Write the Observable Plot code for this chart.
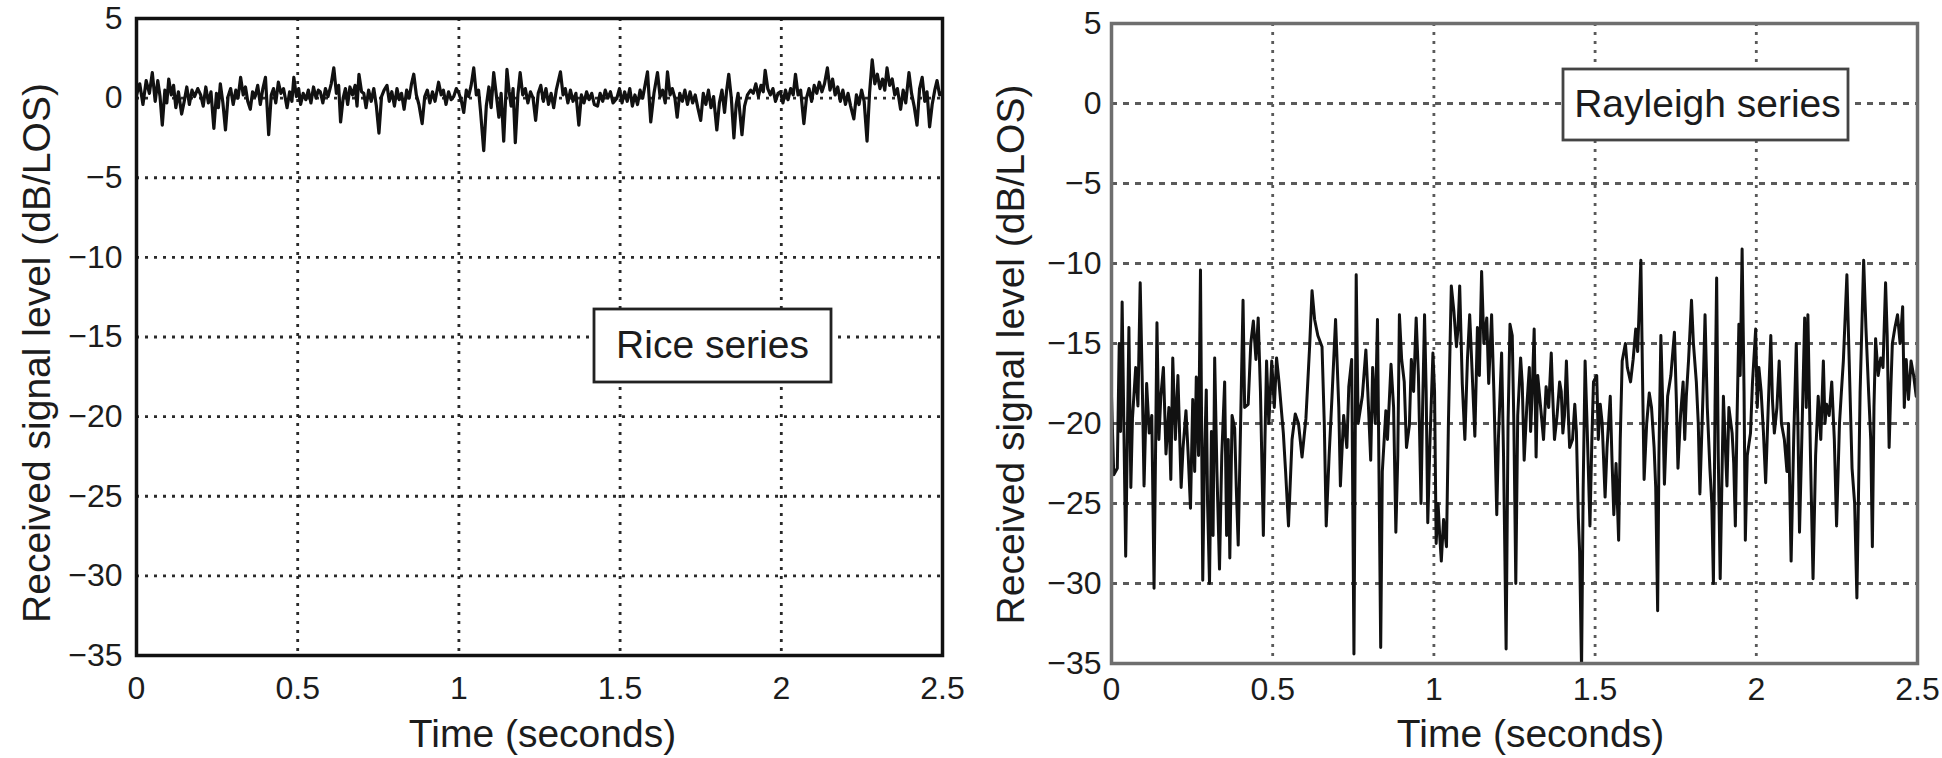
<!DOCTYPE html>
<html><head><meta charset="utf-8">
<script src="https://cdn.jsdelivr.net/npm/d3@7"></script>
<script src="https://cdn.jsdelivr.net/npm/@observablehq/plot@0.6"></script>
<style>
html,body{margin:0;padding:0;background:#fff;}
#wrap{display:flex;width:1942px;height:758px;overflow:hidden;}
</style></head><body><div id="wrap"></div>
<script>
// ---- data (time in seconds, level in dB/LOS) ----
const xTicks = [0, 0.5, 1, 1.5, 2, 2.5];
const yTicks = [5, 0, -5, -10, -15, -20, -25, -30, -35];
const xGrid = [0.5, 1, 1.5, 2];
const yGrid = [0, -5, -10, -15, -20, -25, -30];
const xLabel = "Time (seconds)";
const yLabel = "Received signal level (dB/LOS)";
const legendLabels = ["Rice series", "Rayleigh series"];

const riceSamples = [[0,0.2],[0.01,0.9],[0.02,-0.4],[0.03,1.1],[0.04,0.3],[0.049,1.6],[0.058,-0.2],[0.066,1.1],[0.073,0.1],[0.08,-1.7],[0.088,0.5],[0.094,-0.3],[0.1,1.2],[0.108,0.2],[0.115,0.8],[0.122,-0.6],[0.13,0.4],[0.14,-1.0],[0.148,-0.2],[0.156,0.7],[0.164,-0.4],[0.172,0.5],[0.18,0.1],[0.19,0.6],[0.199,0.2],[0.207,-0.5],[0.215,0.7],[0.223,-0.3],[0.231,0.4],[0.24,-1.9],[0.248,0.3],[0.254,-0.6],[0.26,0.9],[0.268,-0.3],[0.276,-2.0],[0.284,0.1],[0.292,0.6],[0.3,-0.4],[0.308,0.5],[0.315,0.0],[0.323,1.3],[0.331,0.2],[0.338,0.7],[0.345,-0.2],[0.353,-0.7],[0.36,0.4],[0.368,0.1],[0.376,0.8],[0.384,-0.4],[0.392,0.6],[0.4,1.3],[0.41,-2.3],[0.418,0.2],[0.425,0.6],[0.432,-0.3],[0.44,1.0],[0.448,0.3],[0.456,0.6],[0.467,-0.6],[0.475,0.4],[0.482,-0.2],[0.488,1.3],[0.496,0.1],[0.503,0.6],[0.509,-0.4],[0.517,0.3],[0.525,-0.1],[0.533,0.5],[0.541,-0.3],[0.549,0.7],[0.557,0.0],[0.564,0.5],[0.57,0.4],[0.578,-0.3],[0.586,0.6],[0.594,0.1],[0.604,0.9],[0.612,1.9],[0.62,0.3],[0.627,0.8],[0.633,-1.5],[0.641,0.0],[0.648,0.6],[0.655,-0.4],[0.662,0.7],[0.67,0.2],[0.678,0.8],[0.684,-0.5],[0.69,1.5],[0.698,0.4],[0.705,0.3],[0.712,-0.6],[0.72,0.5],[0.728,-0.2],[0.736,0.6],[0.744,-0.5],[0.752,-2.2],[0.76,0.1],[0.768,0.5],[0.777,0.8],[0.784,-0.2],[0.792,0.4],[0.8,-0.5],[0.808,0.6],[0.815,-0.1],[0.822,0.3],[0.83,-0.7],[0.838,0.5],[0.846,0.0],[0.853,0.9],[0.86,1.5],[0.868,0.2],[0.876,-0.4],[0.886,-1.6],[0.894,0.1],[0.902,0.5],[0.91,-0.3],[0.918,0.4],[0.926,-0.2],[0.937,1.0],[0.945,0.2],[0.952,0.5],[0.96,-0.4],[0.968,0.4],[0.976,-0.1],[0.984,0.1],[0.992,0.6],[1,0.3],[1.008,-0.2],[1.015,-0.9],[1.023,0.5],[1.03,0.1],[1.038,0.8],[1.046,1.9],[1.054,0.2],[1.061,0.5],[1.067,-0.8],[1.077,-3.3],[1.085,-0.5],[1.093,0.7],[1.1,-0.6],[1.108,1.6],[1.116,0.2],[1.124,-1.2],[1.131,0.3],[1.139,-2.7],[1.149,1.8],[1.156,0.4],[1.162,-0.5],[1.168,0.6],[1.175,-2.8],[1.183,0.2],[1.19,1.6],[1.198,0.2],[1.206,0.6],[1.214,-0.3],[1.222,0.4],[1.23,0.0],[1.238,-1.4],[1.246,0.3],[1.254,0.8],[1.262,-0.2],[1.27,0.6],[1.278,-0.4],[1.286,0.3],[1.294,-0.6],[1.302,0.5],[1.315,1.65],[1.323,0.2],[1.33,0.6],[1.338,-0.3],[1.346,0.5],[1.354,-0.2],[1.363,0.3],[1.372,-1.7],[1.38,0.2],[1.388,-0.3],[1.396,0.4],[1.404,-0.1],[1.412,0.3],[1.42,-0.4],[1.43,-0.5],[1.438,0.3],[1.446,-0.2],[1.454,0.5],[1.462,0.0],[1.47,0.4],[1.478,-0.3],[1.49,0.0],[1.498,0.6],[1.506,-0.3],[1.514,0.4],[1.522,-0.2],[1.53,0.6],[1.538,-0.5],[1.546,0.2],[1.554,-0.4],[1.562,0.5],[1.57,0.0],[1.585,1.65],[1.595,-1.5],[1.605,0.3],[1.616,1.6],[1.624,0.1],[1.632,0.5],[1.64,-0.3],[1.647,1.65],[1.655,0.2],[1.662,0.6],[1.67,0.0],[1.677,-1.2],[1.685,0.3],[1.693,-0.2],[1.701,0.5],[1.709,-0.4],[1.717,0.4],[1.725,-0.3],[1.733,0.2],[1.741,-0.6],[1.75,-1.4],[1.758,0.3],[1.766,-0.4],[1.774,0.5],[1.782,-0.6],[1.79,0.1],[1.8,-2.0],[1.808,-0.3],[1.816,0.5],[1.824,-0.9],[1.83,0.4],[1.837,1.5],[1.845,0.0],[1.853,-2.5],[1.86,-0.4],[1.866,0.3],[1.872,-1.0],[1.878,-2.3],[1.886,-0.5],[1.895,0.2],[1.905,0.5],[1.913,0.3],[1.921,0.9],[1.929,0.1],[1.937,0.8],[1.944,0.4],[1.95,1.75],[1.958,0.6],[1.966,0.2],[1.974,0.6],[1.982,-0.2],[1.99,0.3],[1.997,0.4],[2.005,-0.3],[2.013,0.5],[2.021,-0.1],[2.029,0.6],[2.037,0.2],[2.044,1.5],[2.052,0.2],[2.06,0.5],[2.07,-1.6],[2.078,0.0],[2.086,0.6],[2.094,-0.2],[2.102,0.8],[2.11,0.3],[2.118,1.0],[2.126,0.4],[2.134,0.9],[2.143,1.9],[2.151,0.5],[2.159,1.2],[2.167,0.2],[2.175,0.7],[2.183,-0.2],[2.191,0.5],[2.199,-0.4],[2.207,0.3],[2.215,-0.5],[2.225,-1.3],[2.233,0.2],[2.241,-0.4],[2.249,0.5],[2.257,-0.2],[2.266,-2.7],[2.274,0.4],[2.282,2.4],[2.29,0.9],[2.298,1.5],[2.306,0.6],[2.314,1.2],[2.321,0.5],[2.328,1.9],[2.336,0.8],[2.344,1.2],[2.352,0.2],[2.36,0.6],[2.37,-0.7],[2.378,0.5],[2.386,-0.3],[2.396,1.6],[2.404,0.3],[2.412,-0.5],[2.421,-1.7],[2.429,0.6],[2.437,1.3],[2.445,-0.2],[2.452,0.4],[2.46,-1.8],[2.468,-0.4],[2.476,0.5],[2.483,1.1],[2.491,0.2],[2.5,0.4]];

const rayleighSamples = [[0,-18.3],[0.007,-23.2],[0.018,-22.8],[0.033,-12.4],[0.044,-28.3],[0.054,-14.0],[0.065,-19.7],[0.075,-16.5],[0.089,-11.2],[0.101,-23.9],[0.117,-20.6],[0.132,-30.3],[0.141,-13.7],[0.153,-18.3],[0.169,-21.9],[0.19,-15.9],[0.216,-24.0],[0.231,-19.2],[0.245,-25.3],[0.263,-17.1],[0.276,-10.4],[0.283,-29.8],[0.294,-17.9],[0.304,-30.0],[0.32,-15.9],[0.335,-29.1],[0.351,-17.4],[0.367,-28.4],[0.382,-20.3],[0.393,-27.6],[0.408,-12.3],[0.424,-18.8],[0.44,-13.6],[0.455,-13.4],[0.471,-27.0],[0.481,-16.1],[0.497,-16.1],[0.512,-15.9],[0.533,-20.6],[0.549,-26.4],[0.57,-19.4],[0.591,-22.1],[0.603,-19.7],[0.622,-11.7],[0.653,-15.2],[0.666,-26.4],[0.684,-18.3],[0.695,-13.5],[0.71,-23.9],[0.736,-17.7],[0.752,-34.4],[0.759,-10.7],[0.778,-18.3],[0.789,-15.4],[0.804,-22.3],[0.825,-13.5],[0.835,-34.0],[0.851,-19.2],[0.867,-16.3],[0.882,-26.8],[0.893,-13.2],[0.908,-17.4],[0.924,-20.1],[0.945,-13.4],[0.96,-25.0],[0.971,-13.2],[0.981,-26.2],[0.997,-15.6],[1.007,-27.5],[1.023,-28.6],[1.039,-27.7],[1.054,-11.4],[1.07,-15.2],[1.08,-11.4],[1.096,-21.0],[1.111,-13.2],[1.127,-20.8],[1.148,-10.5],[1.164,-13.4],[1.179,-13.2],[1.195,-25.7],[1.21,-15.6],[1.224,-34.1],[1.236,-13.8],[1.243,-14.5],[1.254,-30.0],[1.269,-15.9],[1.28,-22.3],[1.296,-16.5],[1.311,-14.1],[1.317,-22.1],[1.332,-19.2],[1.348,-17.7],[1.364,-15.6],[1.374,-21.0],[1.39,-17.4],[1.4,-20.6],[1.411,-16.1],[1.421,-21.5],[1.437,-18.8],[1.448,-25.9],[1.458,-35.4],[1.469,-16.1],[1.484,-26.4],[1.495,-17.4],[1.505,-17.0],[1.516,-18.8],[1.531,-24.6],[1.547,-18.3],[1.558,-25.7],[1.573,-27.3],[1.584,-16.1],[1.594,-15.0],[1.61,-17.4],[1.626,-14.1],[1.642,-9.8],[1.652,-23.5],[1.668,-18.1],[1.683,-21.5],[1.694,-31.7],[1.704,-14.5],[1.715,-23.8],[1.725,-18.3],[1.746,-14.3],[1.757,-22.8],[1.773,-17.4],[1.783,-18.3],[1.799,-12.3],[1.814,-17.4],[1.825,-24.4],[1.841,-13.2],[1.856,-22.8],[1.867,-30.0],[1.877,-10.9],[1.888,-29.7],[1.898,-18.3],[1.909,-23.9],[1.925,-20.6],[1.935,-26.4],[1.946,-13.8],[1.956,-9.1],[1.966,-27.3],[1.982,-20.6],[1.998,-14.1],[2.008,-16.5],[2.029,-23.7],[2.045,-14.5],[2.056,-20.6],[2.071,-16.1],[2.087,-21.0],[2.108,-28.6],[2.124,-15.0],[2.134,-26.8],[2.15,-13.4],[2.16,-13.2],[2.176,-29.7],[2.192,-18.3],[2.208,-16.1],[2.218,-18.8],[2.234,-17.4],[2.249,-26.4],[2.27,-16.1],[2.281,-10.7],[2.297,-22.8],[2.312,-30.9],[2.333,-9.8],[2.349,-18.3],[2.36,-27.7],[2.37,-14.7],[2.386,-15.9],[2.401,-11.2],[2.412,-21.5],[2.422,-15.0],[2.438,-13.2],[2.454,-12.7],[2.459,-19.0],[2.48,-16.1],[2.496,-18.3],[2.5,-16.1]];

// ... and the smaller wiggles read between them
const rayleighDetail = [[0.024,-15.0],[0.028,-20.5],[0.06,-24.0],[0.082,-18.9],[0.095,-17.0],[0.109,-17.5],[0.125,-19.5],[0.147,-21.0],[0.161,-16.5],[0.178,-19.0],[0.184,-23.5],[0.198,-21.0],[0.206,-17.0],[0.222,-21.5],[0.238,-22.0],[0.252,-18.5],[0.258,-23.0],[0.27,-22.0],[0.288,-22.5],[0.298,-25.0],[0.31,-20.5],[0.315,-27.0],[0.327,-23.0],[0.342,-22.0],[0.357,-27.0],[0.362,-21.0],[0.374,-19.5],[0.387,-24.0],[0.413,-19.0],[0.432,-15.0],[0.448,-16.0],[0.462,-18.0],[0.476,-21.0],[0.488,-20.0],[0.505,-19.0],[0.52,-17.5],[0.54,-23.0],[0.56,-21.0],[0.58,-20.0],[0.615,-15.0],[0.63,-13.5],[0.64,-14.5],[0.66,-20.0],[0.675,-22.0],[0.705,-19.0],[0.72,-19.5],[0.73,-21.5],[0.745,-16.0],[0.765,-20.0],[0.795,-18.0],[0.81,-16.5],[0.818,-20.0],[0.84,-23.0],[0.856,-21.0],[0.875,-19.0],[0.888,-22.0],[0.9,-16.0],[0.915,-21.5],[0.93,-16.0],[0.937,-18.0],[0.952,-17.0],[0.965,-19.0],[0.976,-18.0],[0.988,-21.0],[1.002,-18.0],[1.013,-25.0],[1.018,-27.0],[1.03,-26.0],[1.045,-20.0],[1.062,-13.0],[1.075,-14.0],[1.088,-17.5],[1.104,-16.0],[1.118,-16.5],[1.135,-14.0],[1.141,-17.0],[1.155,-15.0],[1.17,-17.5],[1.186,-18.0],[1.2,-21.0],[1.216,-22.0],[1.23,-20.0],[1.248,-20.0],[1.26,-19.5],[1.274,-17.5],[1.288,-19.0],[1.3,-20.5],[1.305,-18.0],[1.322,-17.0],[1.34,-21.0],[1.356,-19.0],[1.368,-18.0],[1.382,-19.5],[1.395,-18.0],[1.405,-19.5],[1.416,-19.0],[1.43,-21.0],[1.442,-20.5],[1.452,-28.0],[1.463,-24.0],[1.475,-20.0],[1.49,-21.0],[1.51,-21.0],[1.522,-20.0],[1.537,-21.5],[1.552,-22.0],[1.565,-22.5],[1.578,-21.0],[1.6,-16.5],[1.618,-16.0],[1.632,-15.5],[1.647,-17.0],[1.66,-20.0],[1.675,-19.0],[1.688,-24.0],[1.698,-22.0],[1.71,-19.0],[1.72,-21.0],[1.735,-17.0],[1.752,-18.5],[1.765,-19.5],[1.778,-21.0],[1.79,-16.0],[1.805,-15.0],[1.82,-20.0],[1.835,-18.0],[1.848,-19.0],[1.862,-25.0],[1.872,-19.0],[1.882,-22.0],[1.893,-24.0],[1.903,-21.0],[1.915,-19.0],[1.93,-22.5],[1.94,-20.0],[1.95,-17.0],[1.962,-18.0],[1.972,-22.0],[1.988,-17.5],[2.003,-19.0],[2.015,-18.0],[2.022,-20.5],[2.037,-19.0],[2.05,-18.5],[2.064,-19.0],[2.078,-20.0],[2.095,-23.0],[2.1,-20.0],[2.116,-21.0],[2.129,-20.0],[2.14,-22.0],[2.155,-19.0],[2.168,-22.0],[2.184,-22.0],[2.2,-21.0],[2.213,-20.0],[2.226,-19.5],[2.242,-21.0],[2.258,-20.0],[2.264,-18.0],[2.288,-16.0],[2.305,-25.0],[2.322,-18.0],[2.34,-14.0],[2.355,-21.0],[2.365,-19.0],[2.378,-17.0],[2.393,-16.5],[2.406,-14.5],[2.417,-18.0],[2.43,-14.0],[2.446,-15.0],[2.465,-16.0],[2.472,-18.5],[2.488,-17.0]];

// ---- drawing ----
const FONT = "'Liberation Sans', Arial, Helvetica, sans-serif";
function toRows(...lists) {
  return lists.flat().map(([t, v]) => ({t, v})).sort((a, b) => a.t - b.t);
}

function panel(cfg) {
  const rows = toRows(...cfg.samples);
  return Plot.plot({
    width: 971, height: 758,
    marginLeft: cfg.ml, marginRight: cfg.mr, marginTop: cfg.mt, marginBottom: cfg.mb,
    style: {fontFamily: FONT, background: "white", color: "#1c1c1c", overflow: "visible"},
    x: {domain: [0, 2.5]},
    y: {domain: [-35, 5]},
    marks: [
      Plot.gridX(xGrid, {stroke: cfg.gridColor, strokeOpacity: 1, strokeWidth: 2.8, strokeDasharray: cfg.dashX}),
      Plot.gridY(yGrid, {stroke: cfg.gridColor, strokeOpacity: 1, strokeWidth: 2.8, strokeDasharray: cfg.dashY}),
      Plot.line(rows, {x: "t", y: "v", stroke: "#111", strokeWidth: cfg.lineWidth, strokeLinejoin: "round", clip: true}),
      Plot.rect([0], {fill: "white", stroke: cfg.boxColor, strokeWidth: 2.8,
        insetLeft: cfg.box[0], insetRight: cfg.box[1], insetTop: cfg.box[2], insetBottom: cfg.box[3]}),
      Plot.text([cfg.legend], {text: d => d, frameAnchor: "top-left", dx: cfg.legendPos[0], dy: cfg.legendPos[1],
        textAnchor: "middle", lineAnchor: "middle", fontSize: 39, fill: "#1c1c1c"}),
      Plot.frame({stroke: cfg.frameColor, strokeWidth: 3.5}),
      Plot.axisX({ticks: xTicks, tickFormat: d => String(d), tickSize: 0, tickPadding: cfg.xPad, fontSize: 32, label: null}),
      Plot.axisY({ticks: yTicks, tickSize: 0, tickPadding: cfg.yPad, fontSize: 32, label: null}),
      Plot.text([xLabel], {text: d => d, frameAnchor: "bottom", dx: cfg.xTitle[0], dy: cfg.xTitle[1],
        lineAnchor: "middle", textAnchor: "middle", fontSize: 39, fill: "#1c1c1c"}),
      Plot.text([yLabel], {text: d => d, frameAnchor: "left", dx: cfg.yTitle[0], dy: cfg.yTitle[1], rotate: -90,
        lineAnchor: "middle", textAnchor: "middle", fontSize: 39, fill: "#1c1c1c"})
    ]
  });
}

const wrap = document.getElementById("wrap");
wrap.appendChild(panel({
  samples: [riceSamples], legend: legendLabels[0], lineWidth: 3.2,
  ml: 136, mr: 29, mt: 18, mb: 103,
  gridColor: "#2a2a2a", dashX: "3,6", dashY: "3,6", frameColor: "#111", boxColor: "#222",
  box: [458, 111, 291, 273], legendPos: [576, 327],
  xPad: 21, yPad: 14, xTitle: [3, 79], yTitle: [-99, 16]
}));
wrap.appendChild(panel({
  samples: [rayleighSamples, rayleighDetail], legend: legendLabels[1], lineWidth: 3.0,
  ml: 140, mr: 25, mt: 23, mb: 95,
  gridColor: "#5a5a5a", dashX: "3,6", dashY: "6,6", frameColor: "#6e6e6e", boxColor: "#444",
  box: [452, 69, 46, 523], legendPos: [596, 81],
  xPad: 14, yPad: 10, xTitle: [16, 71], yTitle: [-100, 11]
}));
</script></body></html>
